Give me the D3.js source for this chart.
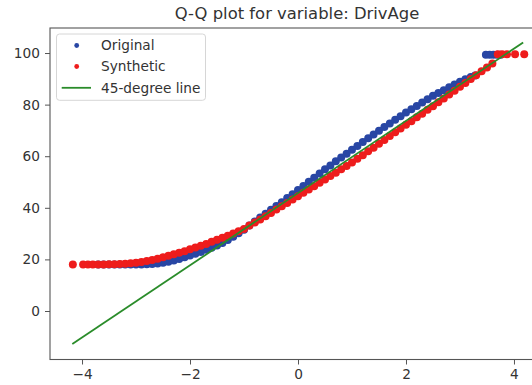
<!DOCTYPE html>
<html>
<head>
<meta charset="utf-8">
<script src="https://cdn.jsdelivr.net/npm/d3@7"></script>
<style>
  html, body { margin: 0; padding: 0; background: #fff; }
  svg { display: block; font-family: "DejaVu Sans", sans-serif; }
</style>
</head>
<body>
<svg id="chart" width="532" height="385"></svg>
<script>
// ---- data ----
const titleText = "Q-Q plot for variable: DrivAge";
const seriesNames = ["Original", "Synthetic", "45-degree line"];
const xTicks = [-4, -2, 0, 2, 4];
const yTicks = [0, 20, 40, 60, 80, 100];

// Original: theoretical quantiles (x) vs sample quantiles (y)
const originalX = [-3.70,-3.60,-3.50,-3.40,-3.30,-3.20,-3.10,-3.00,-2.90,-2.80,-2.70,-2.60,-2.50,-2.40,-2.30,-2.20,-2.10,-2.00,-1.90,-1.80,-1.70,-1.60,-1.50,-1.40,-1.30,-1.20,-1.10,-1.00,-0.90,-0.80,-0.70,-0.60,-0.50,-0.40,-0.30,-0.20,-0.10,0.00,0.10,0.20,0.30,0.40,0.50,0.60,0.70,0.80,0.90,1.00,1.10,1.20,1.30,1.40,1.50,1.60,1.70,1.80,1.90,2.00,2.10,2.20,2.30,2.40,2.50,2.60,2.70,2.80,2.90,3.00,3.10,3.20,3.28,3.48,3.55,3.62,3.69,3.75];
const originalY = [18,18,18,18,18,18,18,18,18,18.1,18.2,18.4,18.7,19.1,19.6,20.2,20.8,21.5,22.2,22.9,23.7,24.5,25.4,26.4,27.5,28.8,30.1,31.5,33.1,34.7,36.2,37.7,39.2,40.7,42.2,43.8,45.3,46.9,48.5,50.1,51.7,53.3,54.9,56.4,58.0,59.5,61.0,62.5,64.0,65.5,67.0,68.4,69.9,71.3,72.7,74.1,75.5,76.9,78.2,79.5,80.8,82.1,83.4,84.5,85.6,86.7,87.8,88.9,89.8,90.7,91.3,99.3,99.3,99.3,99.3,99.3];

// Synthetic
const syntheticX = [-4.17,-3.98,-3.89,-3.80,-3.70,-3.60,-3.50,-3.40,-3.30,-3.20,-3.10,-3.00,-2.90,-2.80,-2.70,-2.60,-2.50,-2.40,-2.30,-2.20,-2.10,-2.00,-1.90,-1.80,-1.70,-1.60,-1.50,-1.40,-1.30,-1.20,-1.10,-1.00,-0.90,-0.80,-0.70,-0.60,-0.50,-0.40,-0.30,-0.20,-0.10,0.00,0.10,0.20,0.30,0.40,0.50,0.60,0.70,0.80,0.90,1.00,1.10,1.20,1.30,1.40,1.50,1.60,1.70,1.80,1.90,2.00,2.10,2.20,2.30,2.40,2.50,2.60,2.70,2.80,2.90,3.00,3.10,3.20,3.30,3.40,3.50,3.60,3.70,3.78,3.87,4.02,4.19];
const syntheticY = [18,18,18,18,18,18,18.1,18.1,18.2,18.3,18.5,18.7,19.0,19.4,19.8,20.3,20.8,21.4,22.0,22.6,23.2,23.9,24.6,25.3,26.0,26.8,27.6,28.4,29.2,30.0,30.9,31.8,33.1,34.3,35.5,36.7,38.0,39.3,40.6,41.9,43.2,44.5,45.8,47.1,48.4,49.7,51.0,52.3,53.6,54.9,56.2,57.6,59.0,60.4,61.9,63.3,64.8,66.3,67.8,69.3,70.7,72.2,73.6,75.1,76.5,78.0,79.4,80.9,82.4,83.9,85.4,86.9,88.4,89.9,91.4,92.9,94.4,95.9,99.5,99.5,99.5,99.5,99.5];

// 45-degree reference line end points
const lineX = [-4.18, 4.17];
const lineY = [-12.8, 104.1];

// ---- styling ----
const colors = { original: "#2846a4", synthetic: "#ee1c1c", line: "#2a8c2a" };
const textColor = "#333";
const spineColor = "#555";
const dotR = 4.0;

const svg = d3.select("#chart");
const margin = { left: 50, top: 28, right: 546, bottom: 359.5 };

const x = d3.scaleLinear().domain([-4.593, 4.593]).range([margin.left, margin.right]);
const y = d3.scaleLinear().domain([-18.8, 109.7]).range([margin.bottom, margin.top]);

// clip
svg.append("defs").append("clipPath").attr("id", "clip")
  .append("rect").attr("x", margin.left).attr("y", margin.top)
  .attr("width", margin.right - margin.left).attr("height", margin.bottom - margin.top);

const plot = svg.append("g").attr("clip-path", "url(#clip)");

const orig = d3.zip(originalX, originalY);
const synth = d3.zip(syntheticX, syntheticY);

plot.append("g").selectAll("circle").data(orig).join("circle")
  .attr("cx", d => x(d[0])).attr("cy", d => y(d[1])).attr("r", dotR)
  .attr("fill", colors.original);

plot.append("g").selectAll("circle").data(synth).join("circle")
  .attr("cx", d => x(d[0])).attr("cy", d => y(d[1])).attr("r", dotR)
  .attr("fill", colors.synthetic);

plot.append("path")
  .datum(d3.zip(lineX, lineY))
  .attr("d", d3.line().x(d => x(d[0])).y(d => y(d[1])))
  .attr("fill", "none").attr("stroke", colors.line).attr("stroke-width", 1.8);

// axes
const xAxis = svg.append("g").attr("transform", `translate(0,${margin.bottom})`)
  .call(d3.axisBottom(x).tickValues(xTicks).tickSize(5).tickPadding(4.5).tickFormat(d3.format("d")));
const yAxis = svg.append("g").attr("transform", `translate(${margin.left},0)`)
  .call(d3.axisLeft(y).tickValues(yTicks).tickSize(5).tickPadding(5).tickFormat(d3.format("d")));

[xAxis, yAxis].forEach(a => {
  a.select(".domain").remove();
  a.selectAll(".tick line").attr("stroke", spineColor).attr("stroke-width", 1);
  a.selectAll(".tick text").attr("fill", textColor).style("font-size", "13.7px")
    .style("font-family", "DejaVu Sans, sans-serif");
});

// spines (right one falls outside the view)
svg.append("rect")
  .attr("x", margin.left).attr("y", margin.top)
  .attr("width", margin.right - margin.left).attr("height", margin.bottom - margin.top)
  .attr("fill", "none").attr("stroke", spineColor).attr("stroke-width", 1.1);

// title
svg.append("text")
  .attr("x", (176 + 418) / 2).attr("y", 18.5)
  .attr("text-anchor", "middle")
  .attr("fill", textColor)
  .style("font-size", "16.4px")
  .text(titleText);

// legend
const lg = svg.append("g");
lg.append("rect")
  .attr("x", 56.5).attr("y", 34).attr("width", 149).attr("height", 66.3)
  .attr("rx", 3).attr("fill", "rgba(255,255,255,0.85)")
  .attr("stroke", "#d6d6d6").attr("stroke-width", 1);

const rowsY = [45.5, 66.5, 87.8];
lg.append("circle").attr("cx", 76.7).attr("cy", rowsY[0]).attr("r", 2.4).attr("fill", colors.original);
lg.append("circle").attr("cx", 76.7).attr("cy", rowsY[1]).attr("r", 2.4).attr("fill", colors.synthetic);
lg.append("line").attr("x1", 61.7).attr("x2", 91).attr("y1", rowsY[2]).attr("y2", rowsY[2])
  .attr("stroke", colors.line).attr("stroke-width", 1.8);

lg.selectAll("text.lbl").data(seriesNames).join("text")
  .attr("class", "lbl")
  .attr("x", 101).attr("y", (d, i) => rowsY[i]).attr("dy", "0.36em")
  .attr("fill", textColor).style("font-size", "13.7px")
  .text(d => d);
</script>
</body>
</html>
